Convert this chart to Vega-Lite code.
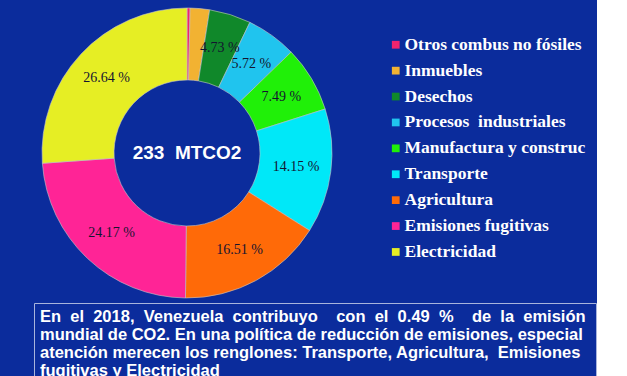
{
  "$schema": "https://vega.github.io/schema/vega-lite/v6.json",
  "background": "#0b2c9c",
  "padding": {"left": 33, "top": 4, "right": 0, "bottom": 0},
  "spacing": 0,
  "config": {
    "view": {"stroke": null},
    "concat": {"spacing": 0},
    "font": "Liberation Sans"
  },
  "vconcat": [
    {
      "width": 306,
      "height": 298,
      "layer": [
        {
          "data": {
            "values": [
              {"sector": "Otros combus no fósiles", "pct": 0.35, "label": "", "ord": 1},
              {"sector": "Inmuebles", "pct": 2.2, "label": "", "ord": 2},
              {"sector": "Desechos", "pct": 4.73, "label": "4.73 %", "ord": 3},
              {"sector": "Procesos\u00a0\u00a0industriales", "pct": 5.72, "label": "5.72 %", "ord": 4},
              {"sector": "Manufactura y construc", "pct": 7.49, "label": "7.49 %", "ord": 5},
              {"sector": "Transporte", "pct": 14.15, "label": "14.15 %", "ord": 6},
              {"sector": "Agricultura", "pct": 16.51, "label": "16.51 %", "ord": 7},
              {"sector": "Emisiones fugitivas", "pct": 24.17, "label": "24.17 %", "ord": 8},
              {"sector": "Electricidad", "pct": 26.64, "label": "26.64 %", "ord": 9}
            ]
          },
          "encoding": {
            "theta": {"field": "pct", "type": "quantitative", "stack": true},
            "order": {"field": "ord", "type": "quantitative"}
          },
          "layer": [
            {
              "mark": {"type": "arc", "outerRadius": 145, "innerRadius": 73, "stroke": "#c8c8c8", "strokeWidth": 0.6},
              "encoding": {
                "color": {
                  "field": "sector",
                  "type": "nominal",
                  "scale": {
                    "domain": ["Otros combus no fósiles", "Inmuebles", "Desechos", "Procesos\u00a0\u00a0industriales", "Manufactura y construc", "Transporte", "Agricultura", "Emisiones fugitivas", "Electricidad"],
                    "range": ["#f0246e", "#f2b232", "#10882a", "#20c4ee", "#20f008", "#00e8f8", "#ff6a08", "#ff2496", "#e6ee24"]
                  },
                  "legend": {
                    "title": null,
                    "orient": "none",
                    "legendX": 353,
                    "legendY": 32,
                    "padding": 0,
                    "symbolType": "square",
                    "symbolSize": 60,
                    "symbolStrokeWidth": 0,
                    "symbolOffset": 0,
                    "labelFont": "Liberation Serif",
                    "labelFontWeight": "bold",
                    "labelFontSize": 17.5,
                    "labelColor": "#ffffff",
                    "labelOffset": 0,
                    "labelLimit": 300,
                    "rowPadding": 6.9
                  }
                }
              }
            },
            {
              "mark": {"type": "text", "radius": 110, "font": "Liberation Serif", "fontSize": 14, "color": "#141430"},
              "encoding": {"text": {"field": "label"}}
            }
          ]
        },
        {
          "data": {"values": [{"t": "233\u00a0\u00a0MTCO2"}]},
          "mark": {"type": "text", "font": "Liberation Sans", "fontWeight": "bold", "fontSize": 19, "color": "#ffffff"},
          "encoding": {"text": {"field": "t"}}
        }
      ]
    },
    {
      "width": 562,
      "height": 82,
      "view": {"stroke": "#a8b4dc", "strokeWidth": 1},
      "data": {
        "values": [
          {"line": 1, "txt": "En\u00a0\u00a0el\u00a0\u00a02018,\u00a0\u00a0Venezuela\u00a0\u00a0contribuyo\u00a0\u00a0\u00a0\u00a0con\u00a0\u00a0el\u00a0\u00a00.49\u00a0\u00a0%\u00a0\u00a0\u00a0\u00a0de\u00a0\u00a0la\u00a0\u00a0emisión"},
          {"line": 2, "txt": "mundial de CO2. En una política de reducción de emisiones, especial"},
          {"line": 3, "txt": "atención merecen los renglones: Transporte, Agricultura,\u00a0\u00a0Emisiones"},
          {"line": 4, "txt": "fugitivas y Electricidad"}
        ]
      },
      "mark": {"type": "text", "align": "left", "font": "Liberation Sans", "fontWeight": "bold", "fontSize": 16.5, "color": "#ffffff", "dx": 6},
      "encoding": {
        "x": {"value": 0},
        "y": {"field": "line", "type": "ordinal", "axis": null, "scale": {"type": "point", "padding": 0.778}},
        "text": {"field": "txt"}
      }
    }
  ]
}
